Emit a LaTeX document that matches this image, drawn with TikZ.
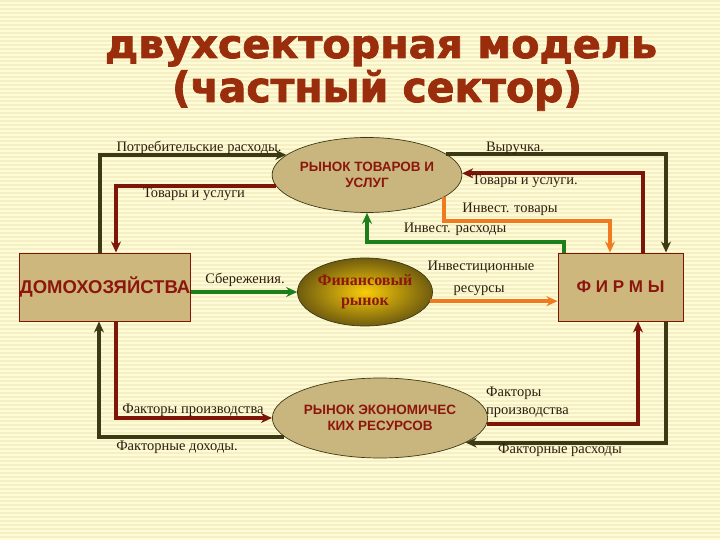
\documentclass[tikz,border=0pt]{standalone}
\usepackage{fontspec,graphicx}
\setmainfont{Liberation Serif}
\setsansfont{Liberation Sans}
\newfontfamily\titlefont[BoldFeatures={FakeBold=2}]{DejaVu Sans}
\usetikzlibrary{shapes.geometric,arrows.meta}

\definecolor{bgyel}{RGB}{255,251,214}
\definecolor{bgline}{RGB}{245,239,196}
\definecolor{brick}{RGB}{154,46,12}
\definecolor{darkolive}{RGB}{60,58,20}
\definecolor{flowred}{RGB}{125,22,8}
\definecolor{flowgreen}{RGB}{28,127,28}
\definecolor{floworange}{RGB}{242,122,30}
\definecolor{boxtan}{RGB}{205,183,124}
\definecolor{elltan}{RGB}{201,181,126}
\definecolor{nodered}{RGB}{140,22,14}
\definecolor{labeltext}{RGB}{46,30,16}
\definecolor{goldin}{RGB}{250,204,10}
\definecolor{goldout}{RGB}{112,92,14}

\begin{document}
\begin{tikzpicture}[x=1pt,y=-1pt,
    flow/.style={line width=4pt,-{Stealth[length=11pt,width=10pt]}},
    lbl/.style={font=\fontsize{14.5}{16}\selectfont,text=labeltext,inner sep=0pt,anchor=base},
    sector/.style={draw=flowred,line width=1pt,fill=boxtan,minimum height=68pt,
      font=\sffamily\bfseries,text=nodered,inner sep=0pt},
    market/.style={ellipse,draw=darkolive,line width=0.7pt,fill=elltan,inner sep=0pt,
      align=center,font=\sffamily\bfseries\fontsize{13.5}{16.5}\selectfont,text=nodered}]

  \useasboundingbox (0,0) rectangle (720,540);
  \fill[bgyel] (0,0) rectangle (720,540);
  \foreach \y in {1,5,...,540}
    \draw[bgline,line width=1.5pt] (0,\y) -- (720,\y);

  % title
  \node[anchor=base,inner sep=0pt,text=brick] (t1) at (381,58)
    {\titlefont\bfseries\resizebox{552pt}{22pt}{двухсекторная модель}};
  \node[anchor=base,inner sep=0pt,text=brick] (t2) at (377,102)
    {\titlefont\bfseries\resizebox{410pt}{32pt}{(частный сектор)}};

  % sectors and markets
  \node[sector,minimum width=170pt,font=\sffamily\bfseries\fontsize{18.5}{20}\selectfont] (hh) at (105,287) {ДОМОХОЗЯЙСТВА};
  \node[sector,minimum width=125pt,font=\sffamily\bfseries\fontsize{17}{20}\selectfont] (firms) at (620.5,287) {Ф И Р М Ы};
  \node[market,minimum width=175pt,minimum height=75pt] (goods) at (367,175) {РЫНОК ТОВАРОВ И\\УСЛУГ};
  \node[market,minimum width=176pt,minimum height=80pt] (res) at (380,418) {РЫНОК ЭКОНОМИЧЕС\\КИХ РЕСУРСОВ};
  \node[ellipse,draw=darkolive,line width=0.7pt,shading=radial,inner color=goldin,outer color=goldout,
    minimum width=135pt,minimum height=68pt,inner sep=0pt,align=center,
    font=\bfseries\fontsize{16}{20}\selectfont,text=nodered] (fin) at (365,292) {Финансовый\\рынок};

  % flows
  \draw[flow,darkolive] ([xshift=-5pt]hh.north) |- (goods.166);
  \draw[flow,flowred] (goods.187) -| ([xshift=11pt]hh.north);
  \draw[flow,darkolive] (goods.15) -| ([xshift=45.5pt]firms.north);
  \draw[flow,flowred] ([xshift=22.5pt]firms.north) |- (goods.1);
  \draw[flow,floworange] (goods.344) -- ++(0,24) -| ([xshift=-10.5pt]firms.north);
  \draw[flow,flowgreen] ([xshift=-56.5pt]firms.north) -- ++(0,-11) -| (goods.south);
  \draw[flow,flowgreen] (fin.west -| hh.east) -- (fin.west);
  \draw[flow,floworange] (fin.352) -- (fin.352 -| firms.west);
  \draw[flow,flowred] ([xshift=11pt]hh.south) |- (res.west);
  \draw[flow,darkolive] (res.191) -| ([xshift=-6pt]hh.south);
  \draw[flow,flowred] (res.357) -| ([xshift=17.5pt]firms.south);
  \draw[flow,darkolive] ([xshift=45.5pt]firms.south) |- (res.344);

  % labels
  \node[lbl] (lcons) at (199,152) {Потребительские расходы.};
  \node[lbl] (lgoodsl) at (194,197) {Товары и услуги};
  \node[lbl] (lrev) at (515,152) {Выручка.};
  \node[lbl] (lgoodsr) at (525,185) {Товары и услуги.};
  \node[lbl] (linvg) at (510,212) {Инвест. товары};
  \node[lbl] (linvs) at (455,233) {Инвест. расходы};
  \node[lbl] (lsav) at (245,283) {Сбережения.};
  \node[lbl] (linvr1) at (481,270) {Инвестиционные};
  \node[lbl] (linvr2) at (479,292) {ресурсы};
  \node[lbl] (lfacl) at (193,413) {Факторы производства};
  \node[lbl] (linc) at (177,450) {Факторные доходы.};
  \node[lbl,anchor=base west] (lfacr1) at (486,396) {Факторы};
  \node[lbl,anchor=base west] (lfacr2) at (486,414) {производства};
  \node[lbl] (lexp) at (560,453) {Факторные расходы};
\end{tikzpicture}
\end{document}
